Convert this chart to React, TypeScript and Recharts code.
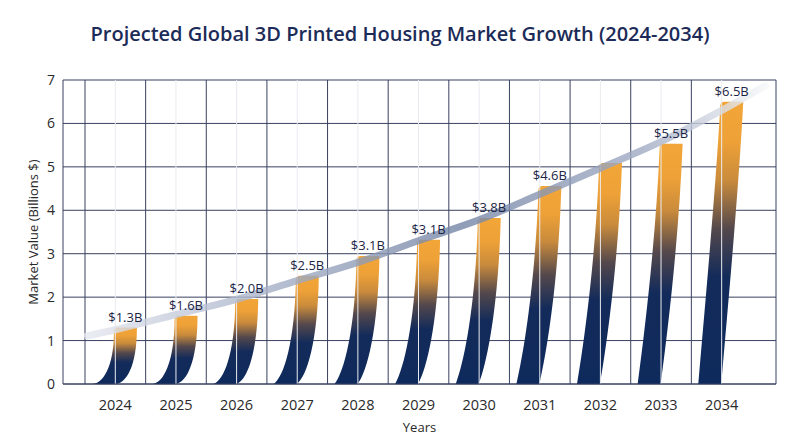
import { ComposedChart, Bar, Line, Scatter, XAxis, YAxis, CartesianGrid, ReferenceLine } from 'recharts';

const years = ['2024', '2025', '2026', '2027', '2028', '2029', '2030', '2031', '2032', '2033', '2034'];
const marketValues = [1.3, 1.57, 1.96, 2.49, 2.95, 3.32, 3.82, 4.56, 5.09, 5.53, 6.5];
const valueLabels = ['$1.3B', '$1.6B', '$2.0B', '$2.5B', '$3.1B', '$3.1B', '$3.8B', '$4.6B', '', '$5.5B', '$6.5B'];

// trend curve running across the bars
const trendPos = [-0.46, 0, 1, 2, 3, 4, 5, 6, 7, 8, 9, 10, 10.72];
const trendValues = [1.11, 1.25, 1.6, 1.95, 2.38, 2.8, 3.3, 3.78, 4.37, 4.97, 5.58, 6.3, 6.87];

const yTicks = [0, 1, 2, 3, 4, 5, 6, 7];
const X_MIN = -0.863;
const X_MAX = 10.896;

const barData = years.map((y, i) => ({ pos: i, value: marketValues[i], label: valueLabels[i] }));
const trendData = trendPos.map((p, i) => ({ pos: p, trend: trendValues[i] }));

const GRID = '#394160';
const FONT = '"Open Sans", sans-serif';

const lerp = (a: number, b: number, k: number) => a + (b - a) * k;

function CurvedBar(props: any) {
  const { x, y, width, height } = props;
  if (!height || height <= 0) return null;
  const cx = x + width / 2;
  const yB = y + height;
  const yT = y;
  const h = height;
  const d = 22; // lean
  const w = 23; // thickness
  const x0 = cx - 23;
  const k = Math.max(0, Math.min(1, (h - 57) / 225));
  const p1x = lerp(0.5, 0.33, k) * d;
  const p1y = lerp(0, 0.3, k) * h;
  const p2x = lerp(1, 0.8, k) * d;
  const p2y = lerp(0.3, 0.7, k) * h;
  const r = 4;
  const path = [
    `M${x0},${yB}`,
    `C${x0 + p1x},${yB - p1y} ${x0 + p2x},${yB - p2y} ${x0 + d},${yT + r}`,
    `Q${x0 + d},${yT} ${x0 + d + r},${yT}`,
    `L${x0 + d + w},${yT}`,
    `C${x0 + p2x + w},${yB - p2y} ${x0 + p1x + w},${yB - p1y} ${x0 + w},${yB}`,
    'Z',
  ].join(' ');
  return <path d={path} fill="url(#barGrad)" />;
}

function ValueLabel(props: any) {
  const { cx, cy, payload } = props;
  if (!payload || !payload.label) return <g />;
  return (
    <text x={cx + 10} y={cy - 6} textAnchor="middle" fontFamily={FONT} fontSize={13} fill="#1c2546">
      {payload.label}
    </text>
  );
}

export default function App() {
  return (
    <div style={{ position: 'absolute', left: 0, top: 0, width: 800, height: 447, background: '#fff' }}>
      <div
        style={{
          position: 'absolute',
          top: 20,
          left: 0,
          width: 800,
          textAlign: 'center',
          fontFamily: FONT,
          fontWeight: 600,
          fontSize: 20,
          color: '#1c2b58',
        }}
      >
        Projected Global 3D Printed Housing Market Growth (2024-2034)
      </div>
      <ComposedChart width={800} height={447} data={barData} margin={{ top: 80, right: 24, bottom: 0, left: 0 }}>
        <defs>
          <linearGradient id="barGrad" x1="0" y1="1" x2="0" y2="0">
            <stop offset="0%" stopColor="#0e2a5c" />
            <stop offset="38%" stopColor="#132b5a" />
            <stop offset="55%" stopColor="#54484c" />
            <stop offset="72%" stopColor="#c98b3c" />
            <stop offset="86%" stopColor="#eea137" />
            <stop offset="100%" stopColor="#f2a638" />
          </linearGradient>
          <linearGradient id="trendGrad" x1="0" y1="0" x2="1" y2="0">
            <stop offset="0%" stopColor="#e4e7ef" />
            <stop offset="25%" stopColor="#a9b3c9" />
            <stop offset="55%" stopColor="#7585a6" />
            <stop offset="82%" stopColor="#a0abc3" />
            <stop offset="100%" stopColor="#f6f7f9" />
          </linearGradient>
        </defs>
        <CartesianGrid vertical={false} stroke={GRID} strokeWidth={1} />
        {years.map((_, i) => (
          <ReferenceLine key={'c' + i} x={i} stroke="#e9ebf0" strokeWidth={1} />
        ))}
        {years.map((_, i) => (
          <ReferenceLine key={'b' + i} x={i - 0.5} stroke={GRID} strokeWidth={1} />
        ))}
        <ReferenceLine x={X_MAX} stroke={GRID} strokeWidth={1} />
        <XAxis
          dataKey="pos"
          type="number"
          domain={[X_MIN, X_MAX]}
          allowDataOverflow
          ticks={years.map((_, i) => i)}
          tickFormatter={(v: number) => years[v] ?? ''}
          interval={0}
          height={63}
          tickSize={0}
          tickMargin={16}
          axisLine={{ stroke: GRID }}
          tick={{ fontFamily: FONT, fontSize: 14.5, fill: '#2a2a2a', fontWeight: 500 }}
          label={{ value: 'Years', position: 'center', dy: 12, style: { fontFamily: FONT, fontSize: 13, fill: '#2a2a2a' } }}
        />
        <YAxis
          domain={[0, 7]}
          ticks={yTicks}
          width={63}
          tickSize={0}
          tickMargin={8}
          axisLine={{ stroke: GRID }}
          tick={{ fontFamily: FONT, fontSize: 14, fill: '#2a2a2a' }}
          label={{
            value: 'Market Value (Billions $)',
            angle: -90,
            position: 'center',
            dx: 2,
            style: { fontFamily: FONT, fontSize: 13, fill: '#2a2a2a' },
          }}
        />
        <Bar dataKey="value" barSize={46} shape={CurvedBar} isAnimationActive={false} />
        <Line
          data={trendData}
          dataKey="trend"
          type="monotone"
          stroke="url(#trendGrad)"
          strokeWidth={7}
          strokeOpacity={0.8}
          strokeLinecap="round"
          dot={false}
          activeDot={false}
          isAnimationActive={false}
        />
        <Scatter data={barData} dataKey="value" shape={ValueLabel} isAnimationActive={false} />
      </ComposedChart>
    </div>
  );
}
